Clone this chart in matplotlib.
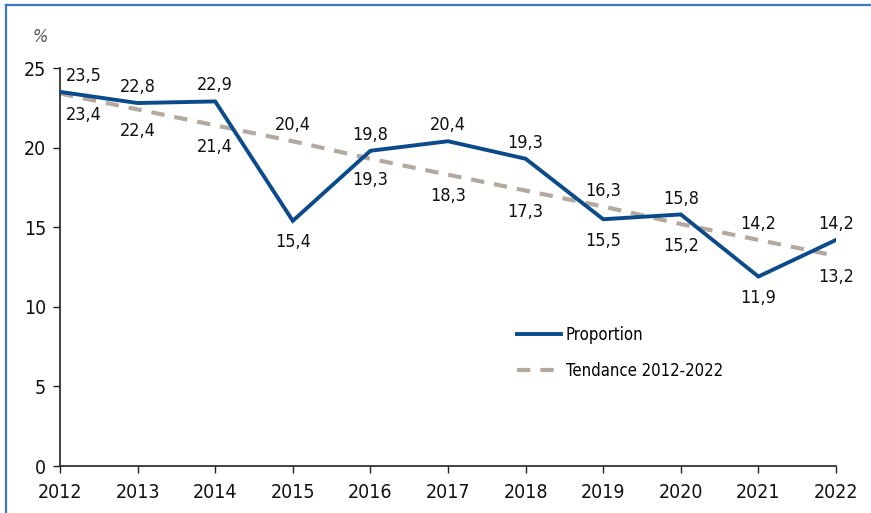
import matplotlib
matplotlib.use("Agg")
import matplotlib.pyplot as plt
from matplotlib.lines import Line2D

plt.rcParams['font.family'] = ['DejaVu Sans']
plt.rcParams['font.stretch'] = 'condensed'

years = [2012, 2013, 2014, 2015, 2016, 2017, 2018, 2019, 2020, 2021, 2022]
proportion = [23.5, 22.8, 22.9, 15.4, 19.8, 20.4, 19.3, 15.5, 15.8, 11.9, 14.2]
tendance = [23.4, 22.4, 21.4, 20.4, 19.3, 18.3, 17.3, 16.3, 15.2, 14.2, 13.2]

# where each value label goes relative to its point
prop_side = ['up', 'up', 'up', 'down', 'up', 'up', 'up', 'down', 'up', 'down', 'up']
tend_side = ['down', 'down', 'down', 'up', 'down', 'down', 'down', 'up', 'down', 'up', 'down']

BLUE = '#0b4a8b'
TAUPE = '#b3a99f'

fig = plt.figure(figsize=(8.71, 5.13), dpi=100)
ax = fig.add_axes([60 / 871, 1 - 466 / 513, 776 / 871, 398 / 513])

ax.plot(years, tendance, color=TAUPE, lw=3.0, dashes=(3.2, 2.4),
        solid_capstyle='butt', dash_capstyle='butt', zorder=2)
ax.plot(years, proportion, color=BLUE, lw=2.8, solid_joinstyle='miter', zorder=3)


def fmt(v):
    return f"{v:.1f}".replace('.', ',')


def label(x, v, side):
    dx = 0
    if x == years[0]:
        dx = 17
    if side == 'up':
        ax.annotate(fmt(v), (x, v), xytext=(dx, 5), textcoords='offset points',
                    ha='center', va='bottom', fontsize=13, color='#111111')
    else:
        ax.annotate(fmt(v), (x, v), xytext=(dx, -9), textcoords='offset points',
                    ha='center', va='top', fontsize=13, color='#111111')


for x, v, s in zip(years, proportion, prop_side):
    label(x, v, s)
for x, v, s in zip(years, tendance, tend_side):
    label(x, v, s)

ax.set_xlim(2012, 2022)
ax.set_ylim(0, 25)
ax.set_xticks(years)
ax.set_yticks([0, 5, 10, 15, 20, 25])
ax.tick_params(axis='both', direction='out', length=5, width=1, color='#222222',
               labelsize=14, pad=5, labelcolor='#111111')
ax.tick_params(axis='x', pad=7)
for side in ['top', 'right']:
    ax.spines[side].set_visible(False)
for side in ['left', 'bottom']:
    ax.spines[side].set_linewidth(1.2)
    ax.spines[side].set_color('#222222')

fig.text(40 / 871, 1 - 37 / 513, '%', fontsize=13, color='#555555',
         style='italic', ha='center', va='center')

handles = [Line2D([], [], color=BLUE, lw=2.8),
           Line2D([], [], color=TAUPE, lw=3.0, dashes=(3.2, 2.4))]
ax.legend(handles, ['Proportion', 'Tendance 2012-2022'], frameon=False,
          loc='upper left', bbox_to_anchor=(0.57, 0.39), fontsize=12,
          handlelength=2.6, handletextpad=0.3, labelspacing=1.1)

# blue frame along the top and left edges
fig.add_artist(Line2D([6 / 871, 1.0], [1 - 5 / 513, 1 - 5 / 513],
                      transform=fig.transFigure, color='#3f78c1', lw=1.6))
fig.add_artist(Line2D([6 / 871, 6 / 871], [0.0, 1 - 5 / 513],
                      transform=fig.transFigure, color='#3f78c1', lw=1.6))

fig.savefig('out.png', dpi=100)
